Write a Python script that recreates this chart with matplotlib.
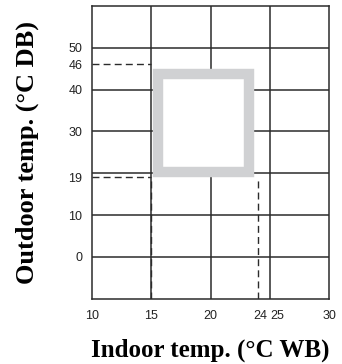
import matplotlib
matplotlib.use('Agg')
import matplotlib.pyplot as plt
import matplotlib.transforms as mtransforms
from matplotlib.patches import Rectangle

# Rango de funcionamiento (temperaturas)
interior_min, interior_max = 15, 24     # °C WB
exterior_min, exterior_max = 19, 46     # °C DB

x_ticks = [10, 15, 20, 24, 25, 30]
y_ticks = [0, 10, 19, 30, 40, 46, 50]
x_grid = [15, 20, 25]
y_grid = [0, 10, 20, 30, 40, 50]

fig = plt.figure(figsize=(3.42, 3.64), dpi=100)
ax = fig.add_axes([0.269, 0.179, 0.693, 0.805])
ax.set_xlim(10, 30)
ax.set_ylim(-10, 60)

col = '#2b2b2b'
for x in x_grid:
    ax.axvline(x, color=col, lw=1.1, zorder=1)
for y in y_grid:
    ax.axhline(y, color=col, lw=1.1, zorder=1)

# zona de funcionamiento
ax.add_patch(Rectangle((15.6, 20.2), 23.25 - 15.6, 43.8 - 20.2, fill=True,
                       facecolor='white', edgecolor='#d0d1d3', lw=7.5, zorder=3))

dash = (0, (5, 3))
ax.plot([10, interior_min], [exterior_max, exterior_max], color=col, lw=1, ls=dash, zorder=2)
ax.plot([10, interior_min], [exterior_min, exterior_min], color=col, lw=1, ls=dash, zorder=2)
ax.plot([interior_min, interior_min], [-10, exterior_min], color=col, lw=1, ls=dash, zorder=2)
ax.plot([interior_max, interior_max], [-10, exterior_min], color=col, lw=1, ls=dash, zorder=2)

ax.set_xticks(x_ticks)
ax.set_yticks(y_ticks)
ax.tick_params(length=0, labelsize=9, labelcolor='#222222')
ax.tick_params(axis='x', pad=8)
ax.tick_params(axis='y', pad=7)
for lab in ax.get_xticklabels() + ax.get_yticklabels():
    lab.set_family(['Liberation Sans', 'DejaVu Sans'])

# separar las etiquetas 24 y 25
fig.canvas.draw()
xl = ax.get_xticklabels()
for i, dx in [(3, 2), (4, 7)]:
    off = mtransforms.ScaledTranslation(dx / 100, 0, fig.dpi_scale_trans)
    xl[i].set_transform(xl[i].get_transform() + off)

for s in ax.spines.values():
    s.set_color(col)
    s.set_linewidth(1.1)

ax.set_xlabel('Indoor temp. (°C WB)', family=['Liberation Serif', 'DejaVu Serif'],
              fontweight='bold', fontsize=18, labelpad=12)
ax.set_ylabel('Outdoor temp. (°C DB)', family=['Liberation Serif', 'DejaVu Serif'],
              fontweight='bold', fontsize=19, labelpad=21)

fig.savefig('out.png', dpi=100)
